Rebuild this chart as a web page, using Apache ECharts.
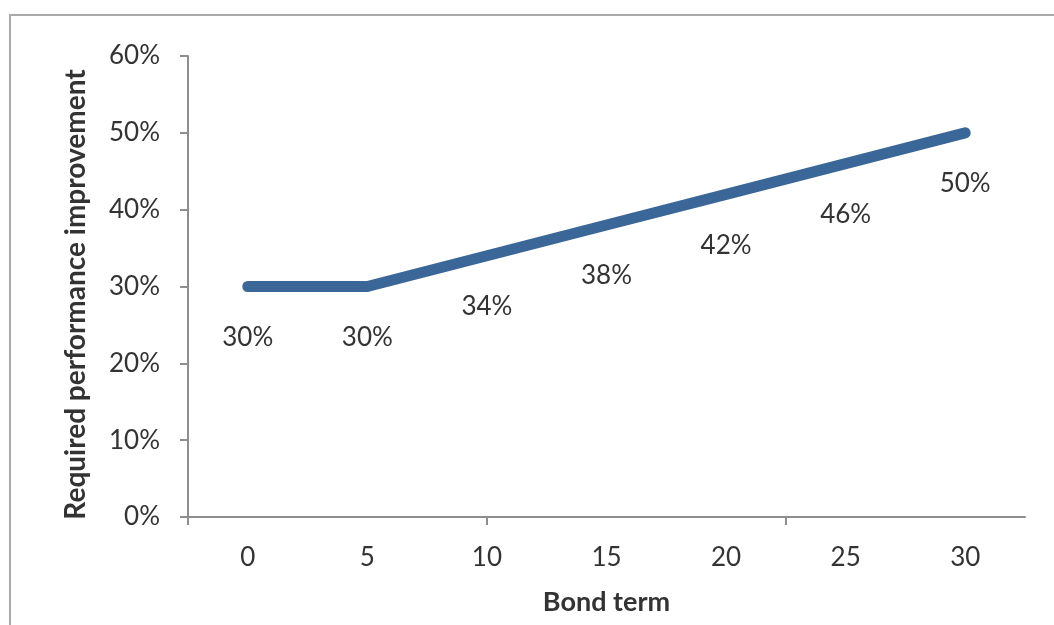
<!DOCTYPE html>
<html>
<head>
<meta charset="utf-8">
<script src="https://cdn.jsdelivr.net/npm/echarts@6/dist/echarts.min.js"></script>
<style>
  html, body { margin: 0; padding: 0; background: #ffffff; }
  #chart { width: 1054px; height: 625px; }
</style>
</head>
<body>
<div id="chart"></div>
<script>
// Bond term (years) on the x axis, required improvement (%) on the y axis
const bondTerms = [0, 5, 10, 15, 20, 25, 30];
const requiredImprovement = [30, 30, 34, 38, 42, 46, 50];
const yTickValues = [0, 10, 20, 30, 40, 50, 60];
const xTickMarks = [-2.5, 10, 22.5];

const textColor = '#333333';
const axisColor = '#8e8e8e';
const font = 'Lato, "Open Sans", sans-serif';

const chart = echarts.init(document.getElementById('chart'), null, { renderer: 'canvas' });

chart.setOption({
  backgroundColor: '#ffffff',
  animation: false,
  graphic: [{
    type: 'rect',
    shape: { x: 10, y: 15, width: 1200, height: 800 },
    style: { fill: 'none', stroke: '#a9a9a9', lineWidth: 2 },
    silent: true
  }],
  grid: { left: 188, right: 29, top: 56, bottom: 108 },
  xAxis: {
    type: 'value',
    min: -2.5,
    max: 32.5,
    name: 'Bond term',
    nameLocation: 'middle',
    nameGap: 72,
    nameTextStyle: { color: textColor, fontFamily: font, fontSize: 27, fontWeight: 'bold' },
    splitLine: { show: false },
    axisLine: { show: true, onZero: false, lineStyle: { color: axisColor, width: 2 } },
    axisTick: { show: true, length: 8, customValues: xTickMarks, lineStyle: { color: axisColor, width: 2 } },
    axisLabel: {
      customValues: bondTerms,
      margin: 28,
      color: textColor,
      fontFamily: font,
      fontSize: 26
    }
  },
  yAxis: {
    type: 'value',
    min: yTickValues[0],
    max: yTickValues[yTickValues.length - 1],
    interval: 10,
    name: 'Required performance improvement',
    nameLocation: 'middle',
    nameGap: 98,
    nameTextStyle: {
      color: textColor, fontFamily: font, fontSize: 28, fontWeight: 'bold',
      padding: [0, 16, 0, 0]
    },
    splitLine: { show: false },
    axisLine: { show: true, onZero: false, lineStyle: { color: axisColor, width: 2 } },
    axisTick: { show: true, length: 8, lineStyle: { color: axisColor, width: 2 } },
    axisLabel: {
      formatter: '{value}%',
      margin: 28,
      color: textColor,
      fontFamily: font,
      fontSize: 26
    }
  },
  series: [{
    type: 'line',
    data: bondTerms.map((t, i) => [t, requiredImprovement[i]]),
    showSymbol: true,
    symbol: 'circle',
    symbolSize: 2,
    itemStyle: { color: '#3b6698' },
    lineStyle: { color: '#3b6698', width: 11, cap: 'round', join: 'round' },
    label: {
      show: true,
      position: 'inside',
      offset: [0, 51],
      formatter: p => p.value[1] + '%',
      color: textColor,
      fontFamily: font,
      fontSize: 26
    }
  }]
});
</script>
</body>
</html>
